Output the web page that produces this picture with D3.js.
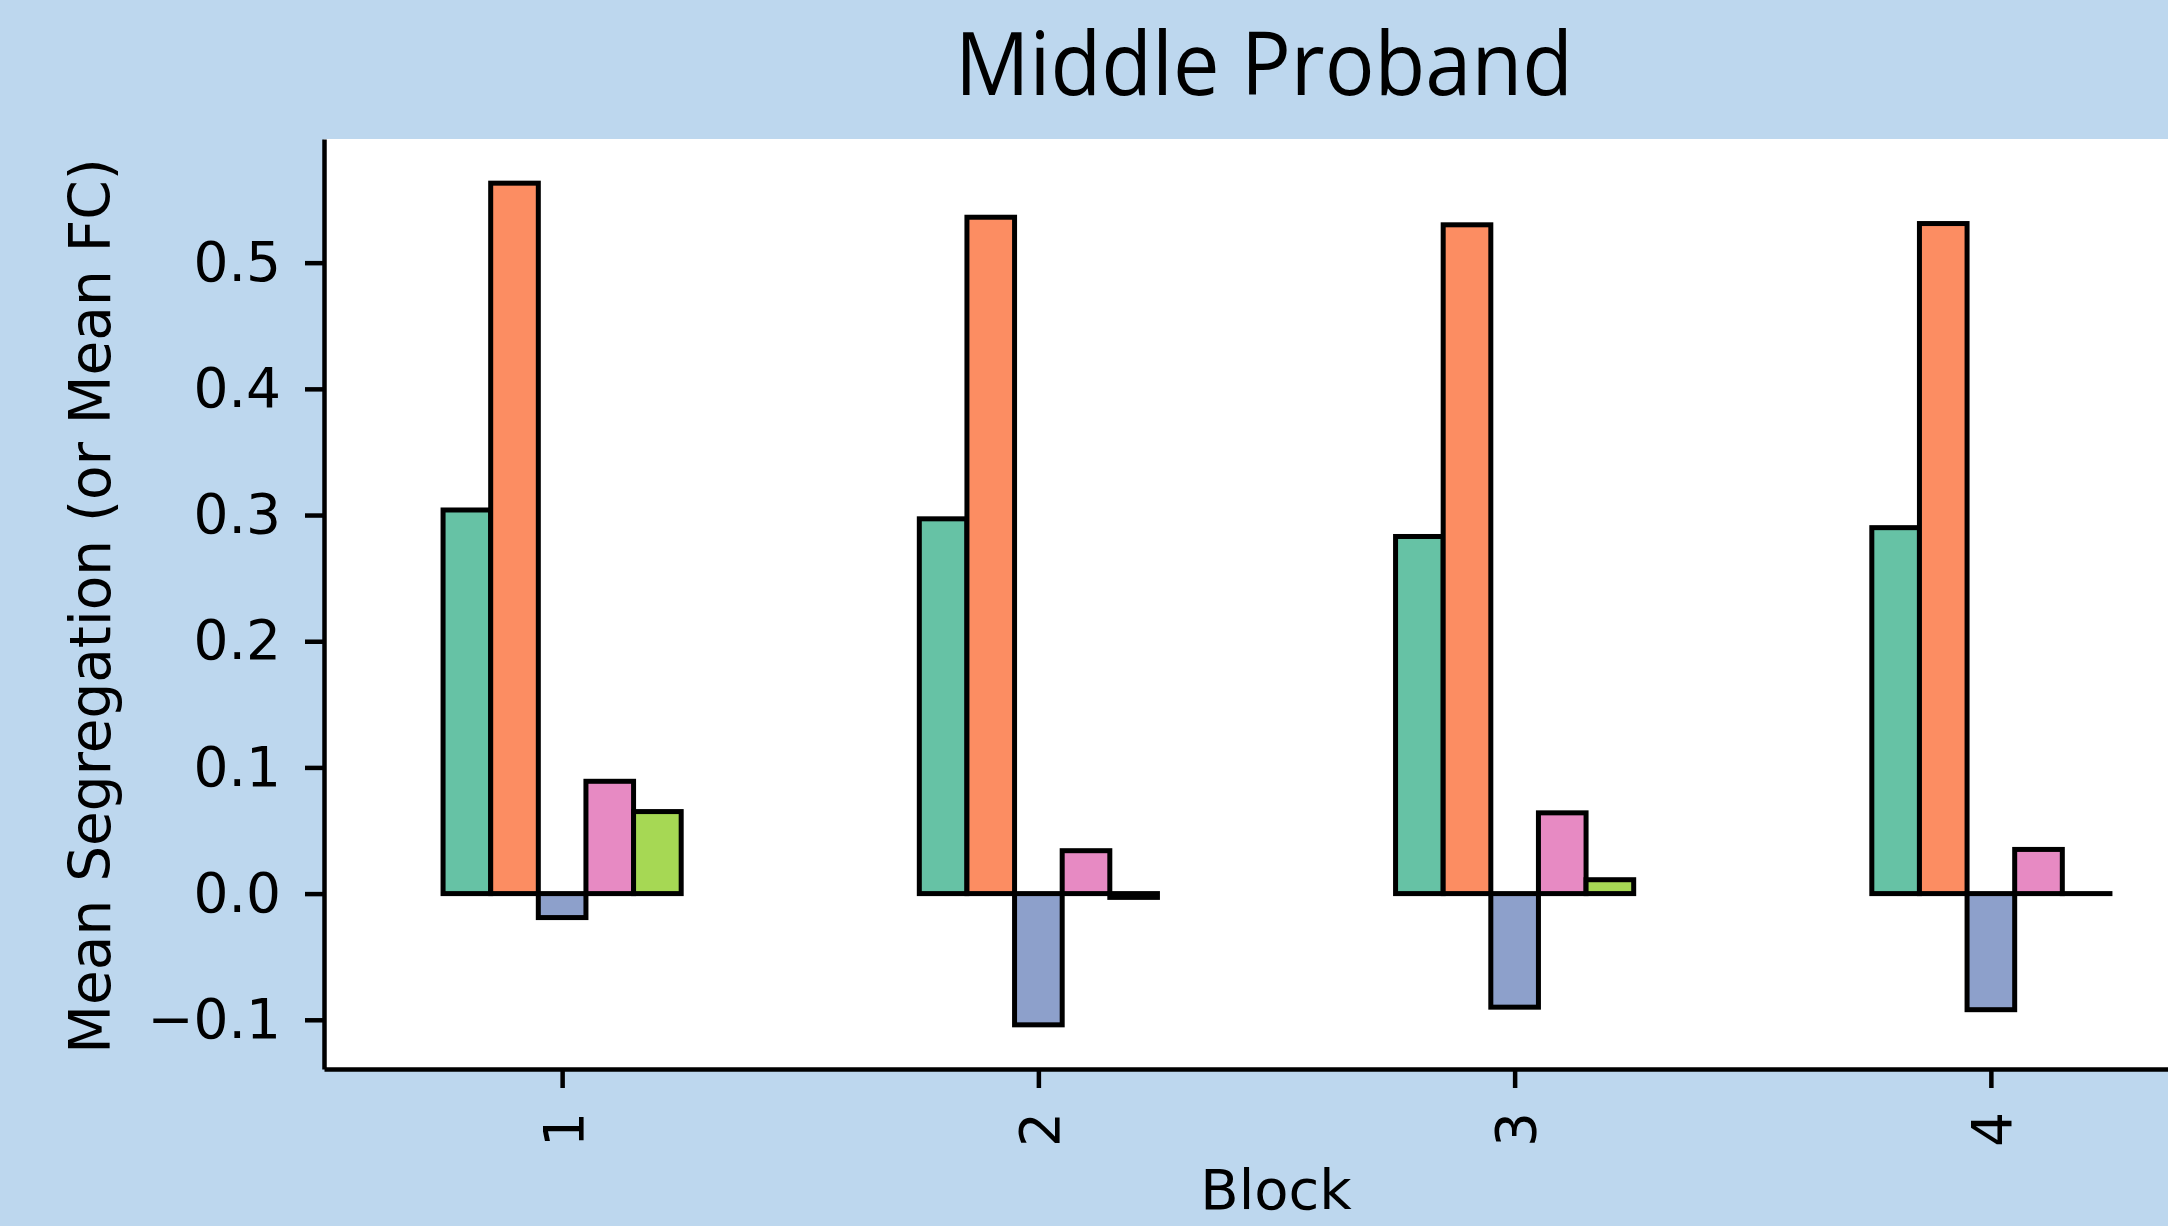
<!DOCTYPE html>
<html>
<head>
<meta charset="utf-8">
<script src="https://cdn.jsdelivr.net/npm/d3@7"></script>
<style>
  body { margin: 0; background: #bdd7ee; }
  svg { display: block; }
</style>
</head>
<body>
<div id="chart"></div>
<script>
// blocks on the x axis and the five series drawn in each block
const blocks = ["1", "2", "3", "4"];
const seriesColors = ["#66c2a5", "#fc8d62", "#8da0cb", "#e78ac3", "#a6d854"];
const series1 = [0.304, 0.297, 0.283, 0.290];
const series2 = [0.563, 0.536, 0.530, 0.531];
const series3 = [-0.019, -0.104, -0.090, -0.092];
const series4 = [0.089, 0.034, 0.064, 0.035];
const series5 = [0.065, -0.003, 0.011, 0.0];
const yTicks = [-0.1, 0.0, 0.1, 0.2, 0.3, 0.4, 0.5];

const allSeries = [series1, series2, series3, series4, series5];

const width = 2168, height = 1226;
const plot = {left: 324, right: 2229, top: 139, bottom: 1069};

const svg = d3.select("#chart").append("svg")
    .attr("width", width)
    .attr("height", height);

svg.append("rect")
    .attr("width", width)
    .attr("height", height)
    .attr("fill", "#bdd7ee");

// axes background
svg.append("rect")
    .attr("x", plot.left)
    .attr("y", plot.top)
    .attr("width", width - plot.left)
    .attr("height", plot.bottom - plot.top)
    .attr("fill", "#ffffff");

const x = d3.scaleLinear()
    .domain([-0.5, blocks.length - 0.5])
    .range([plot.left, plot.right]);
const y = d3.scaleLinear()
    .domain([-0.139, 0.598])
    .range([plot.bottom, plot.top]);

const barW = 0.1;
const bars = [];
allSeries.forEach((vals, s) => {
    vals.forEach((v, i) => {
        bars.push({s: s, i: i, v: v});
    });
});

svg.append("g").selectAll("rect")
    .data(bars)
    .enter()
    .append("rect")
    .attr("x", d => x(d.i + (d.s - 2) * barW - barW / 2))
    .attr("width", d => x(barW) - x(0))
    .attr("y", d => y(Math.max(d.v, 0)))
    .attr("height", d => Math.abs(y(d.v) - y(0)) || 0.01)
    .attr("fill", d => seriesColors[d.s])
    .attr("stroke", "#000")
    .attr("stroke-width", 5);

const tickFont = "'DejaVu Sans', sans-serif";

const yAxis = svg.append("g")
    .attr("transform", `translate(${plot.left},0)`)
    .call(d3.axisLeft(y)
        .tickValues(yTicks)
        .tickSize(19)
        .tickSizeOuter(0)
        .tickPadding(24)
        .tickFormat(d => d3.format(".1f")(d).replace("-", "\u2212")));

const xAxis = svg.append("g")
    .attr("transform", `translate(0,${plot.bottom})`)
    .call(d3.axisBottom(x)
        .tickValues(d3.range(blocks.length))
        .tickSize(19)
        .tickSizeOuter(0)
        .tickFormat(i => blocks[i]));

[yAxis, xAxis].forEach(g => {
    g.select(".domain").attr("stroke", "#000").attr("stroke-width", 4.5);
    g.selectAll(".tick line").attr("stroke", "#000").attr("stroke-width", 4.5);
    g.selectAll(".tick text")
        .attr("fill", "#000")
        .style("font-family", tickFont)
        .style("font-size", "55px");
});

xAxis.selectAll(".tick text")
    .attr("x", 0)
    .attr("y", 0)
    .attr("dy", null)
    .attr("text-anchor", "end")
    .attr("transform", "translate(20,43) rotate(-90)");

// axis labels
svg.append("text")
    .attr("x", 1276)
    .attr("y", 1209)
    .attr("text-anchor", "middle")
    .style("font-family", tickFont)
    .style("font-size", "56px")
    .text("Block");

svg.append("text")
    .attr("transform", "translate(110,606) rotate(-90)")
    .attr("text-anchor", "middle")
    .style("font-family", tickFont)
    .style("font-size", "56.5px")
    .text("Mean Segregation (or Mean FC)");

// title
svg.append("text")
    .attr("x", 955)
    .attr("y", 95)
    .attr("textLength", 618)
    .attr("lengthAdjust", "spacingAndGlyphs")
    .style("font-family", "'Open Sans', sans-serif")
    .style("font-size", "88px")
    .text("Middle Proband");
</script>
</body>
</html>
